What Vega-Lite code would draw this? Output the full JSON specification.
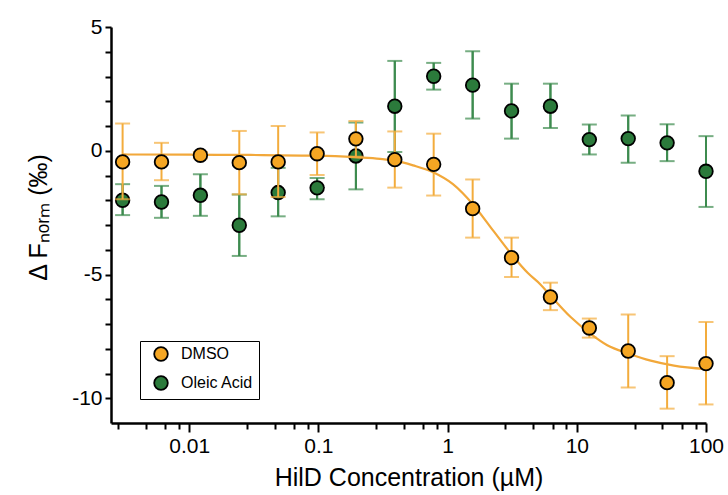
{
  "$schema": "https://vega.github.io/schema/vega-lite/v6.json",
  "width": 595,
  "height": 396,
  "autosize": "none",
  "padding": {"left": 111, "top": 27, "right": 22, "bottom": 72},
  "background": "white",
  "config": {"view": {"stroke": null}, "font": "Liberation Sans"},
  "datasets": {
    "obs": [
      {"series": "Oleic Acid", "conc": 0.00305, "val": -2.0, "lo": -2.6, "hi": -1.35},
      {"series": "Oleic Acid", "conc": 0.0061, "val": -2.07, "lo": -2.71, "hi": -1.42},
      {"series": "Oleic Acid", "conc": 0.0122, "val": -1.8, "lo": -2.63, "hi": -0.95},
      {"series": "Oleic Acid", "conc": 0.0244, "val": -3.01, "lo": -4.25, "hi": -1.77},
      {"series": "Oleic Acid", "conc": 0.0488, "val": -1.69, "lo": -2.65, "hi": -0.69},
      {"series": "Oleic Acid", "conc": 0.0977, "val": -1.5, "lo": -1.96, "hi": -1.1},
      {"series": "Oleic Acid", "conc": 0.195, "val": -0.21, "lo": -1.56, "hi": 1.14},
      {"series": "Oleic Acid", "conc": 0.39, "val": 1.8, "lo": -0.05, "hi": 3.63},
      {"series": "Oleic Acid", "conc": 0.78, "val": 3.01, "lo": 2.47, "hi": 3.55},
      {"series": "Oleic Acid", "conc": 1.5625, "val": 2.65, "lo": 1.3, "hi": 4.02},
      {"series": "Oleic Acid", "conc": 3.125, "val": 1.61, "lo": 0.49, "hi": 2.71},
      {"series": "Oleic Acid", "conc": 6.25, "val": 1.8, "lo": 0.92, "hi": 2.71},
      {"series": "Oleic Acid", "conc": 12.5, "val": 0.45, "lo": -0.15, "hi": 1.06},
      {"series": "Oleic Acid", "conc": 25, "val": 0.49, "lo": -0.48, "hi": 1.42},
      {"series": "Oleic Acid", "conc": 50, "val": 0.32, "lo": -0.42, "hi": 1.07},
      {"series": "Oleic Acid", "conc": 100, "val": -0.83, "lo": -2.27, "hi": 0.59},
      {"series": "DMSO", "conc": 0.00305, "val": -0.45, "lo": -1.96, "hi": 1.1},
      {"series": "DMSO", "conc": 0.0061, "val": -0.45, "lo": -1.19, "hi": 0.32},
      {"series": "DMSO", "conc": 0.0122, "val": -0.18, "lo": -0.31, "hi": -0.05},
      {"series": "DMSO", "conc": 0.0244, "val": -0.48, "lo": -1.76, "hi": 0.8},
      {"series": "DMSO", "conc": 0.0488, "val": -0.45, "lo": -1.87, "hi": 1.0},
      {"series": "DMSO", "conc": 0.0977, "val": -0.12, "lo": -0.98, "hi": 0.74},
      {"series": "DMSO", "conc": 0.195, "val": 0.48, "lo": -0.24, "hi": 1.2},
      {"series": "DMSO", "conc": 0.39, "val": -0.36, "lo": -1.49, "hi": 0.78},
      {"series": "DMSO", "conc": 0.78, "val": -0.55, "lo": -1.81, "hi": 0.69},
      {"series": "DMSO", "conc": 1.5625, "val": -2.34, "lo": -3.51, "hi": -1.16},
      {"series": "DMSO", "conc": 3.125, "val": -4.32, "lo": -5.1, "hi": -3.51},
      {"series": "DMSO", "conc": 6.25, "val": -5.91, "lo": -6.44, "hi": -5.33},
      {"series": "DMSO", "conc": 12.5, "val": -7.16, "lo": -7.55, "hi": -6.78},
      {"series": "DMSO", "conc": 25, "val": -8.09, "lo": -9.57, "hi": -6.62},
      {"series": "DMSO", "conc": 50, "val": -9.37, "lo": -10.42, "hi": -8.3},
      {"series": "DMSO", "conc": 100, "val": -8.6, "lo": -10.25, "hi": -6.92}
    ],
    "fit": [
      {"conc": 0.00305, "val": -0.15},
      {"conc": 0.01, "val": -0.16},
      {"conc": 0.03, "val": -0.17},
      {"conc": 0.1, "val": -0.2},
      {"conc": 0.2, "val": -0.27},
      {"conc": 0.3, "val": -0.33},
      {"conc": 0.39, "val": -0.4},
      {"conc": 0.54, "val": -0.59},
      {"conc": 0.78, "val": -0.88},
      {"conc": 1.1, "val": -1.35},
      {"conc": 1.59, "val": -2.2},
      {"conc": 2.27, "val": -3.25},
      {"conc": 3.16, "val": -4.22},
      {"conc": 4.2, "val": -4.95},
      {"conc": 5.23, "val": -5.4},
      {"conc": 6.25, "val": -5.85},
      {"conc": 8.96, "val": -6.72},
      {"conc": 12.8, "val": -7.4},
      {"conc": 17.2, "val": -7.86},
      {"conc": 25.3, "val": -8.2},
      {"conc": 37.3, "val": -8.48},
      {"conc": 56.5, "val": -8.68},
      {"conc": 100, "val": -8.82}
    ]
  },
  "layer": [
    {
      "data": {"name": "obs"},
      "transform": [{"filter": "datum.series === 'Oleic Acid'"}],
      "mark": {"type": "rule", "color": "#3D8B4F", "strokeWidth": 2},
      "encoding": {
        "x": {"field": "conc", "type": "quantitative", "title": "HilD Concentration (µM)",
          "scale": {"type": "log", "domain": [0.00248, 100], "nice": false},
          "axis": {
            "values": [0.0028, 0.0046, 0.0065, 0.0083, 0.01, 0.028, 0.046, 0.065, 0.083, 0.1, 0.28, 0.46, 0.65, 0.83, 1, 2.8, 4.6, 6.5, 8.3, 10, 28, 46, 65, 83, 100],
            "tickCount": 100,
            "format": "~g",
            "labelExpr": "indexof([0.01, 0.1, 1, 10, 100], datum.value) >= 0 ? datum.label : ''",
            "domainColor": "black", "domainWidth": 2.5, "tickColor": "black", "tickWidth": 2,
            "tickSize": {"condition": {"test": "indexof([0.01, 0.1, 1, 10, 100], datum.value) >= 0", "value": 9}, "value": 6},
            "labelFontSize": 21, "labelColor": "black", "labelPadding": 3,
            "titleFontSize": 25, "titleColor": "black", "titleFontWeight": "normal", "titlePadding": 9,
            "grid": false, "labelFlush": false, "labelOverlap": false
          }
        },
        "y": {"field": "lo", "type": "quantitative", "title": "Δ Fₙₒᵣₘ (‰)",
          "scale": {"domain": [-11, 5], "nice": false, "zero": false},
          "axis": {
            "values": [-10, -9, -8, -7, -6, -5, -4, -3, -2, -1, 0, 1, 2, 3, 4, 5],
            "tickCount": 100,
            "labelExpr": "datum.value % 5 === 0 ? ((datum.value < 0 ? '-' : '') + abs(datum.value)) : ''",
            "domainColor": "black", "domainWidth": 2.5, "tickColor": "black", "tickWidth": 2, "tickSize": 6,
            "labelFontSize": 21, "labelColor": "black", "labelPadding": 3,
            "titleFontSize": 25, "titleColor": "black", "titleFontWeight": "normal", "titlePadding": 20, "titleY": 190,
            "grid": false, "labelFlush": false, "labelOverlap": false
          }
        },
        "y2": {"field": "hi"}
      }
    },
    {
      "mark": {"type": "rule", "color": "#333333", "strokeDash": [2, 2.5], "strokeWidth": 1.6},
      "encoding": {
        "y": {"datum": 0, "type": "quantitative"}
      }
    },
    {
      "data": {"name": "obs"},
      "transform": [{"filter": "datum.series === 'Oleic Acid'"}],
      "mark": {"type": "rule", "color": "#3D8B4F", "strokeWidth": 2},
      "encoding": {
        "x": {"field": "conc", "type": "quantitative", "title": "HilD Concentration (µM)"},
        "y": {"field": "lo", "type": "quantitative", "title": "Δ Fₙₒᵣₘ (‰)"},
        "y2": {"field": "hi"}
      }
    },
    {
      "data": {"name": "obs"},
      "transform": [{"filter": "datum.series === 'Oleic Acid'"}],
      "mark": {"type": "tick", "orient": "horizontal", "color": "#3D8B4F", "size": 15, "thickness": 2},
      "encoding": {
        "x": {"field": "conc", "type": "quantitative", "title": "HilD Concentration (µM)"},
        "y": {"field": "lo", "type": "quantitative", "title": "Δ Fₙₒᵣₘ (‰)"}
      }
    },
    {
      "data": {"name": "obs"},
      "transform": [{"filter": "datum.series === 'Oleic Acid'"}],
      "mark": {"type": "tick", "orient": "horizontal", "color": "#3D8B4F", "size": 15, "thickness": 2},
      "encoding": {
        "x": {"field": "conc", "type": "quantitative", "title": "HilD Concentration (µM)"},
        "y": {"field": "hi", "type": "quantitative", "title": "Δ Fₙₒᵣₘ (‰)"}
      }
    },
    {
      "data": {"name": "obs"},
      "transform": [{"filter": "datum.series === 'Oleic Acid'"}],
      "mark": {"type": "point", "shape": "circle", "filled": true, "size": 185, "stroke": "black", "strokeWidth": 1.8, "opacity": 1},
      "encoding": {
        "x": {"field": "conc", "type": "quantitative", "title": "HilD Concentration (µM)"},
        "y": {"field": "val", "type": "quantitative", "title": "Δ Fₙₒᵣₘ (‰)"},
        "color": {"field": "series", "type": "nominal",
          "scale": {"domain": ["DMSO", "Oleic Acid"], "range": ["#F5A623", "#2B7A3B"]},
          "legend": {"title": null, "orient": "none", "legendX": 29, "legendY": 314, "strokeColor": "black", "fillColor": "white",
            "padding": 5, "cornerRadius": 0, "labelFontSize": 16, "labelColor": "black", "labelFont": "Liberation Sans",
            "symbolType": "circle", "symbolSize": 185, "symbolStrokeColor": "black", "symbolStrokeWidth": 1.8, "symbolOpacity": 1,
            "rowPadding": 7, "labelOffset": 12, "symbolOffset": 8}
        }
      }
    },
    {
      "data": {"name": "fit"},
      "mark": {"type": "line", "color": "#F2A83A", "strokeWidth": 2.2, "interpolate": "monotone"},
      "encoding": {
        "x": {"field": "conc", "type": "quantitative", "title": "HilD Concentration (µM)"},
        "y": {"field": "val", "type": "quantitative", "title": "Δ Fₙₒᵣₘ (‰)"}
      }
    },
    {
      "data": {"name": "obs"},
      "transform": [{"filter": "datum.series === 'DMSO'"}],
      "mark": {"type": "rule", "color": "#F3AC3C", "strokeWidth": 2},
      "encoding": {
        "x": {"field": "conc", "type": "quantitative", "title": "HilD Concentration (µM)"},
        "y": {"field": "lo", "type": "quantitative", "title": "Δ Fₙₒᵣₘ (‰)"},
        "y2": {"field": "hi"}
      }
    },
    {
      "data": {"name": "obs"},
      "transform": [{"filter": "datum.series === 'DMSO'"}],
      "mark": {"type": "tick", "orient": "horizontal", "color": "#F3AC3C", "size": 15, "thickness": 2},
      "encoding": {
        "x": {"field": "conc", "type": "quantitative", "title": "HilD Concentration (µM)"},
        "y": {"field": "lo", "type": "quantitative", "title": "Δ Fₙₒᵣₘ (‰)"}
      }
    },
    {
      "data": {"name": "obs"},
      "transform": [{"filter": "datum.series === 'DMSO'"}],
      "mark": {"type": "tick", "orient": "horizontal", "color": "#F3AC3C", "size": 15, "thickness": 2},
      "encoding": {
        "x": {"field": "conc", "type": "quantitative", "title": "HilD Concentration (µM)"},
        "y": {"field": "hi", "type": "quantitative", "title": "Δ Fₙₒᵣₘ (‰)"}
      }
    },
    {
      "data": {"name": "obs"},
      "transform": [{"filter": "datum.series === 'DMSO'"}],
      "mark": {"type": "point", "shape": "circle", "filled": true, "size": 185, "stroke": "black", "strokeWidth": 1.8, "opacity": 1},
      "encoding": {
        "x": {"field": "conc", "type": "quantitative", "title": "HilD Concentration (µM)"},
        "y": {"field": "val", "type": "quantitative", "title": "Δ Fₙₒᵣₘ (‰)"},
        "color": {"field": "series", "type": "nominal",
          "scale": {"domain": ["DMSO", "Oleic Acid"], "range": ["#F5A623", "#2B7A3B"]},
          "legend": {"title": null, "orient": "none", "legendX": 29, "legendY": 314, "strokeColor": "black", "fillColor": "white",
            "padding": 5, "cornerRadius": 0, "labelFontSize": 16, "labelColor": "black", "labelFont": "Liberation Sans",
            "symbolType": "circle", "symbolSize": 185, "symbolStrokeColor": "black", "symbolStrokeWidth": 1.8, "symbolOpacity": 1,
            "rowPadding": 7, "labelOffset": 12, "symbolOffset": 8}
        }
      }
    }
  ]
}
